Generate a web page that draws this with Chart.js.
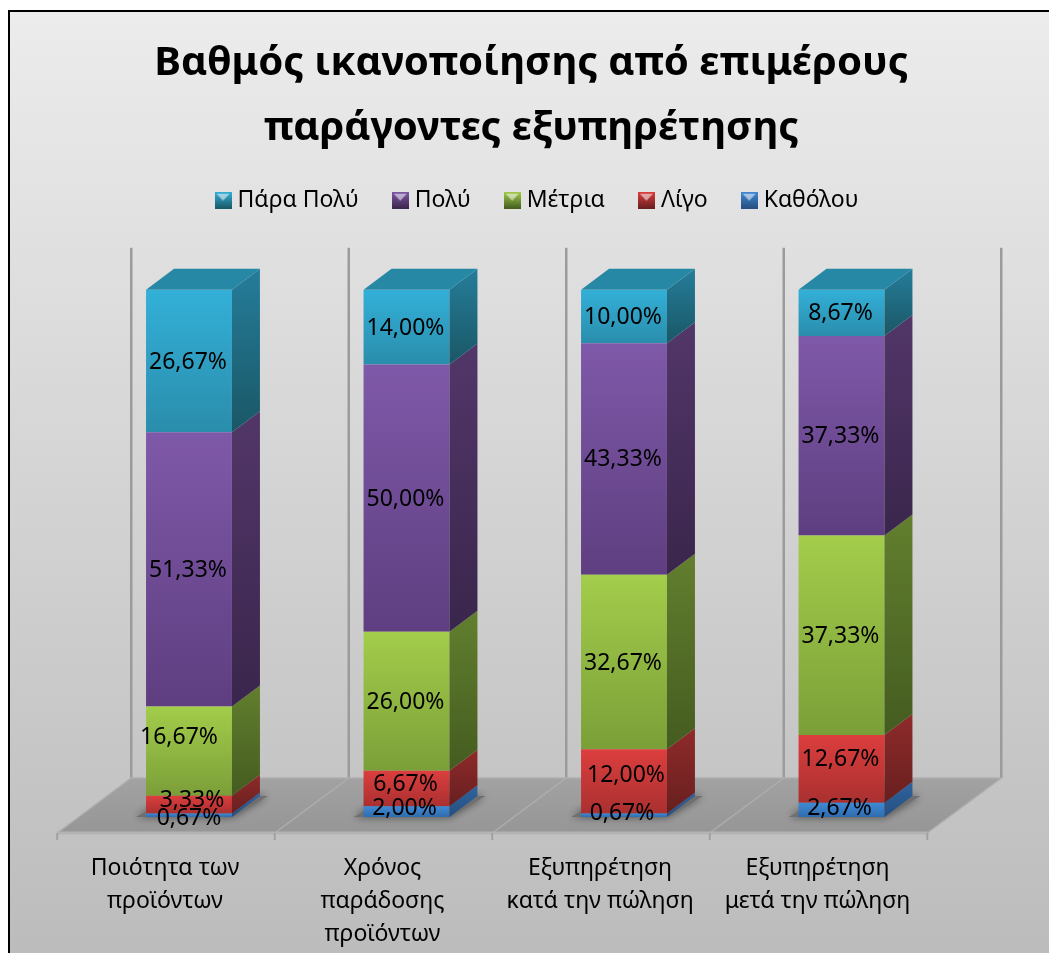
<!DOCTYPE html>
<html>
<head>
<meta charset="utf-8">
<title>Βαθμός ικανοποίησης</title>
<script src="https://cdn.jsdelivr.net/npm/chart.js@4"></script>
<style>
html, body { margin: 0; padding: 0; background: #fff; overflow: hidden; }
#chart-container { width: 1049px; height: 953px; }
canvas { display: block; }
</style>
</head>
<body>
<div id="chart-container"><canvas id="myChart" width="1049" height="953"></canvas></div>
<script>
var categories = [
    ['Ποιότητα των', 'προϊόντων'],
    ['Χρόνος', 'παράδοσης', 'προϊόντων'],
    ['Εξυπηρέτηση', 'κατά την πώληση'],
    ['Εξυπηρέτηση', 'μετά την πώληση']
];
var seriesNames = ['Καθόλου', 'Λίγο', 'Μέτρια', 'Πολύ', 'Πάρα Πολύ'];
var katholou = [0.67, 2.00, 0.67, 2.67];
var ligo = [3.33, 6.67, 12.00, 12.67];
var metria = [16.67, 26.00, 32.67, 37.33];
var poly = [51.33, 50.00, 43.33, 37.33];
var paraPoly = [26.67, 14.00, 10.00, 8.67];
var seriesValues = [katholou, ligo, metria, poly, paraPoly];
var yMax = 98.67;

var fontName = '"Noto Sans", "Open Sans", sans-serif';

// front top, front bottom, side top, side bottom
var shades = [
    ['#4089d4', '#2f6cae', '#2f639f', '#264f80'],
    ['#dc3e3e', '#aa3030', '#8f2a2a', '#681f1f'],
    ['#a3cd4b', '#7b9f38', '#627f2e', '#445c20'],
    ['#7f59a9', '#5e3e80', '#523669', '#3a264c'],
    ['#33b0d8', '#2a8dac', '#257d9a', '#1a5766']
];
var topFace = '#2788a6';
var depthX = 28, depthY = 21;   // bar depth
var floorFront = { x: -23, y: 16 };
var floorBack = { x: 51, y: -39 };

// labels that were dragged by hand in the original, [dataset, bar]: [dx, dy]
var labelNudge = {
    '2,0': [-9, -15], '1,0': [4, -5], '0,0': [1, 2],
    '1,1': [0, -5], '0,1': [-1, -4],
    '1,2': [3, -7], '0,2': [-1, -3],
    '1,3': [0, -10], '0,3': [-1, -2]
};

function makeIcon(s) {
    var c = document.createElement('canvas');
    c.width = 17; c.height = 17;
    var x = c.getContext('2d');
    var g = x.createLinearGradient(0, 0, 0, 17);
    g.addColorStop(0, s[0]);
    g.addColorStop(1, s[3]);
    x.fillStyle = g;
    x.fillRect(0, 0, 17, 17);
    x.fillStyle = 'rgba(255,255,255,0.55)';
    x.beginPath(); x.moveTo(2, 2); x.lineTo(15, 2); x.lineTo(8.5, 9); x.closePath(); x.fill();
    return c;
}
var icons = shades.map(makeIcon);

function sumBelow(ds, i) {
    var t = 0;
    for (var k = 0; k < ds; k++) t += seriesValues[k][i];
    return t;
}

function frontGradient(context) {
    var chart = context.chart;
    var d = context.datasetIndex, i = context.dataIndex;
    if (!chart.chartArea || i === undefined) return shades[d][0];
    var y = chart.scales.y;
    var g = chart.ctx.createLinearGradient(0, y.getPixelForValue(sumBelow(d, i) + seriesValues[d][i]), 0, y.getPixelForValue(sumBelow(d, i)));
    g.addColorStop(0, shades[d][0]);
    g.addColorStop(1, shades[d][1]);
    return g;
}

var scene = {
    id: 'scene',
    afterLayout: function (chart) {
        // title and legend sit off centre and higher up than the layout puts them
        chart.titleBlock.left += 32;
        chart.titleBlock.top -= 43;
        chart.legend.left += 48;
        chart.legend.top -= 68;
    },
    beforeDraw: function (chart) {
        var ctx = chart.ctx;
        ctx.save();
        var g = ctx.createLinearGradient(0, 11, 0, 953);
        g.addColorStop(0, '#ececec');
        g.addColorStop(1, '#bcbcbc');
        ctx.fillStyle = g;
        ctx.fillRect(9, 11, 1040, 942);
        ctx.strokeStyle = '#000';
        ctx.lineWidth = 2;
        ctx.beginPath();
        ctx.moveTo(9, 953); ctx.lineTo(9, 11); ctx.lineTo(1049, 11);
        ctx.stroke();
        ctx.restore();
    },
    beforeDatasetsDraw: function (chart) {
        var ctx = chart.ctx, xs = chart.scales.x, ys = chart.scales.y;
        var base = ys.bottom, step = (xs.right - xs.left) / categories.length;
        ctx.save();
        // back wall lines
        ctx.strokeStyle = '#9b9b9b';
        ctx.lineWidth = 2.5;
        for (var i = 0; i <= categories.length; i++) {
            var wx = xs.left + floorBack.x + i * step;
            ctx.beginPath();
            ctx.moveTo(wx, ys.top - 42);
            ctx.lineTo(wx, base + floorBack.y);
            ctx.stroke();
        }
        // floor
        var fl = xs.left + floorFront.x, fr = xs.right + floorFront.x;
        var bl = xs.left + floorBack.x, br = xs.right + floorBack.x;
        var fy = base + floorFront.y, by = base + floorBack.y;
        var g = ctx.createLinearGradient(0, by, 0, fy);
        g.addColorStop(0, '#a2a2a2');
        g.addColorStop(1, '#969696');
        ctx.fillStyle = g;
        ctx.beginPath();
        ctx.moveTo(fl, fy); ctx.lineTo(bl, by); ctx.lineTo(br, by); ctx.lineTo(fr, fy);
        ctx.closePath();
        ctx.fill();
        ctx.strokeStyle = '#aeaeae';
        ctx.lineWidth = 1.5;
        ctx.beginPath();
        ctx.moveTo(fl, fy); ctx.lineTo(bl, by); ctx.lineTo(br, by); ctx.lineTo(fr, fy);
        ctx.stroke();
        for (i = 1; i < categories.length; i++) {
            ctx.beginPath();
            ctx.moveTo(fl + i * step, fy);
            ctx.lineTo(bl + i * step, by);
            ctx.stroke();
        }
        // front edge and ticks
        ctx.strokeStyle = '#b4b4b4';
        ctx.lineWidth = 3;
        ctx.beginPath();
        ctx.moveTo(fl, fy); ctx.lineTo(fr, fy);
        ctx.stroke();
        ctx.strokeStyle = '#a0a0a0';
        ctx.lineWidth = 2;
        for (i = 0; i <= categories.length; i++) {
            ctx.beginPath();
            ctx.moveTo(fl + i * step, fy);
            ctx.lineTo(fl + i * step, fy + 7);
            ctx.stroke();
        }
        // soft shadow under bars
        var meta = chart.getDatasetMeta(0);
        ctx.shadowColor = 'rgba(50,50,50,0.8)';
        ctx.shadowBlur = 9;
        ctx.fillStyle = '#6f6f6f';
        meta.data.forEach(function (bar) {
            var l = bar.x - bar.width / 2, r = bar.x + bar.width / 2;
            ctx.beginPath();
            ctx.moveTo(l - 10, base);
            ctx.lineTo(r, base);
            ctx.lineTo(r + depthX + 8, base - depthY);
            ctx.lineTo(l + depthX, base - depthY);
            ctx.closePath();
            ctx.fill();
        });
        ctx.restore();
    },
    afterDatasetsDraw: function (chart) {
        var ctx = chart.ctx;
        ctx.save();
        // side faces and top, then value labels
        seriesValues.forEach(function (vals, d) {
            chart.getDatasetMeta(d).data.forEach(function (bar) {
                var r = bar.x + bar.width / 2, l = bar.x - bar.width / 2;
                var g = ctx.createLinearGradient(0, bar.y - depthY, 0, bar.base);
                g.addColorStop(0, shades[d][2]);
                g.addColorStop(1, shades[d][3]);
                ctx.fillStyle = g;
                ctx.beginPath();
                ctx.moveTo(r, bar.y);
                ctx.lineTo(r + depthX, bar.y - depthY);
                ctx.lineTo(r + depthX, bar.base - depthY);
                ctx.lineTo(r, bar.base);
                ctx.closePath();
                ctx.fill();
                if (d === seriesValues.length - 1) {
                    ctx.fillStyle = topFace;
                    ctx.beginPath();
                    ctx.moveTo(l, bar.y);
                    ctx.lineTo(l + depthX, bar.y - depthY);
                    ctx.lineTo(r + depthX, bar.y - depthY);
                    ctx.lineTo(r, bar.y);
                    ctx.closePath();
                    ctx.fill();
                }
            });
        });
        ctx.fillStyle = '#000';
        ctx.font = '23px ' + fontName;
        ctx.textAlign = 'center';
        ctx.textBaseline = 'middle';
        seriesValues.forEach(function (vals, d) {
            chart.getDatasetMeta(d).data.forEach(function (bar, i) {
                var n = labelNudge[d + ',' + i] || [0, 0];
                var txt = vals[i].toFixed(2).replace('.', ',') + '%';
                ctx.fillText(txt, bar.x + n[0] - 1, (bar.y + bar.base) / 2 + n[1] + 1);
            });
        });
        ctx.restore();
    }
};

var datasets = [];
for (var i = 0; i < seriesNames.length; i++) {
    datasets.push({
        label: seriesNames[i],
        data: seriesValues[i],
        backgroundColor: frontGradient,
        borderWidth: 0
    });
}

var ctx = document.getElementById('myChart');
var myChart = new Chart(ctx, {
    type: 'bar',
    data: { labels: categories, datasets: datasets },
    plugins: [scene],
    options: {
        responsive: false,
        animation: false,
        barPercentage: 0.395,
        categoryPercentage: 1,
        layout: { padding: { left: 80.25, right: 98.75, top: 74, bottom: 0 } },
        plugins: {
            title: {
                display: true,
                text: ['Βαθμός ικανοποίησης από επιμέρους', 'παράγοντες εξυπηρέτησης'],
                color: '#000',
                font: { family: fontName, size: 40.2, weight: 'bold', lineHeight: 1.62 },
                padding: { top: 0, bottom: 14 },
                fullSize: true
            },
            legend: {
                position: 'top',
                reverse: true,
                labels: {
                    color: '#000',
                    font: { family: fontName, size: 23 },
                    usePointStyle: true,
                    pointStyleWidth: 6,
                    padding: 38.5,
                    generateLabels: function (chart) {
                        var items = Chart.defaults.plugins.legend.labels.generateLabels(chart);
                        items.forEach(function (it) { it.pointStyle = icons[it.datasetIndex]; });
                        return items;
                    }
                }
            },
            tooltip: { enabled: false }
        },
        scales: {
            x: {
                stacked: true,
                grid: { display: false, drawTicks: false },
                border: { display: false },
                afterFit: function (scale) { scale.height = 136; },
                ticks: {
                    color: '#000',
                    font: { family: fontName, size: 23, lineHeight: 1.43 },
                    padding: 35,
                    labelOffset: -24,
                    autoSkip: false,
                    maxRotation: 0
                }
            },
            y: {
                stacked: true,
                display: false,
                min: 0,
                max: yMax
            }
        }
    }
});
</script>
</body>
</html>
